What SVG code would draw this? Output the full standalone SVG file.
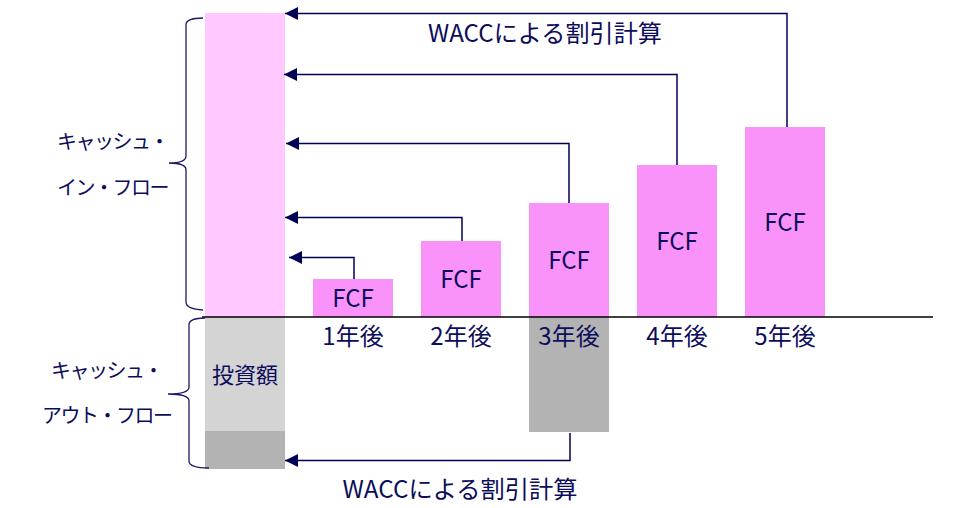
<svg xmlns="http://www.w3.org/2000/svg" width="980" height="508" viewBox="0 0 980 508">
<style>
.t{font-family:"Noto Sans CJK JP","Noto Sans",sans-serif;fill:#0d0d5c}
.lbl{font-size:24px;text-anchor:middle}
.side{font-size:20px;letter-spacing:-1.5px}
.ln{fill:none;stroke:#000055;stroke-width:1.5}
.br{fill:none;stroke:#1a1a66;stroke-width:1.3}
.fcf{fill:#F993F9}
</style>
<defs>
<marker id="ah" viewBox="0 0 10 10" refX="10" refY="5" markerUnits="userSpaceOnUse" markerWidth="13" markerHeight="14" orient="auto">
<path d="M0,0 L10,5 L0,10 z" fill="#000055"/>
</marker>
</defs>
<rect width="980" height="508" fill="#ffffff"/>

<g id="inflow-total"><rect x="205" y="13" width="80" height="304" fill="#FFC9FF"/></g>
<g id="investment">
<rect x="205" y="317" width="80" height="114" fill="#D4D4D4"/>
<rect x="205" y="431" width="80" height="38" fill="#B3B3B3"/>
<text class="t" x="245" y="383" font-size="22" text-anchor="middle">投資額</text>
</g>
<g id="y3-outflow"><rect x="529" y="317" width="80" height="115" fill="#B3B3B3"/></g>

<g id="fcf1"><rect class="fcf" x="313" y="279" width="80" height="38"/><text class="t lbl" x="353" y="307">FCF</text></g>
<g id="fcf2"><rect class="fcf" x="421" y="241" width="80" height="76"/><text class="t lbl" x="461" y="288">FCF</text></g>
<g id="fcf3"><rect class="fcf" x="529" y="203" width="80" height="114"/><text class="t lbl" x="569" y="269">FCF</text></g>
<g id="fcf4"><rect class="fcf" x="637" y="165" width="80" height="152"/><text class="t lbl" x="677" y="250">FCF</text></g>
<g id="fcf5"><rect class="fcf" x="745" y="127" width="80" height="190"/><text class="t lbl" x="785" y="231">FCF</text></g>

<g id="axis"><line x1="202" y1="317" x2="933" y2="317" stroke="#000000" stroke-width="1.5"/></g>

<g id="years">
<text class="t lbl" x="353" y="345">1年後</text>
<text class="t lbl" x="461" y="345">2年後</text>
<text class="t lbl" x="569" y="345">3年後</text>
<text class="t lbl" x="677" y="345">4年後</text>
<text class="t lbl" x="785" y="345">5年後</text>
</g>

<g id="connectors">
<path class="ln" d="M787,127 V13.5 H285" marker-end="url(#ah)"/>
<path class="ln" d="M677,165 V74.5 H284" marker-end="url(#ah)"/>
<path class="ln" d="M569,203 V143.5 H286" marker-end="url(#ah)"/>
<path class="ln" d="M462,241 V217.5 H285" marker-end="url(#ah)"/>
<path class="ln" d="M354,279 V257.5 H289" marker-end="url(#ah)"/>
<path class="ln" d="M570,433 V460.5 H285" marker-end="url(#ah)"/>
</g>

<g id="brace-in"><path class="br" d="M203,18 Q186,18 186,25 L186,156 Q186,163 169,163 Q186,163 186,170 L186,302 Q186,309 203,310"/></g>
<g id="brace-out"><path class="br" d="M205,318 Q189,318 189,325 L189,387 Q189,394 168,394 Q189,394 189,401 L189,461 Q189,468 209,468"/></g>

<g id="labels">
<text class="t" x="545" y="42" font-size="24" text-anchor="middle" textLength="234" lengthAdjust="spacingAndGlyphs">WACCによる割引計算</text>
<text class="t" x="460" y="498" font-size="24" text-anchor="middle" textLength="235" lengthAdjust="spacingAndGlyphs">WACCによる割引計算</text>
<text class="t side" x="57" y="149">キャッシュ・</text>
<text class="t side" x="57" y="195">イン・フロー</text>
<text class="t side" x="51" y="378">キャッシュ・</text>
<text class="t side" x="42" y="423" letter-spacing="-1">アウト・フロー</text>
</g>
</svg>
